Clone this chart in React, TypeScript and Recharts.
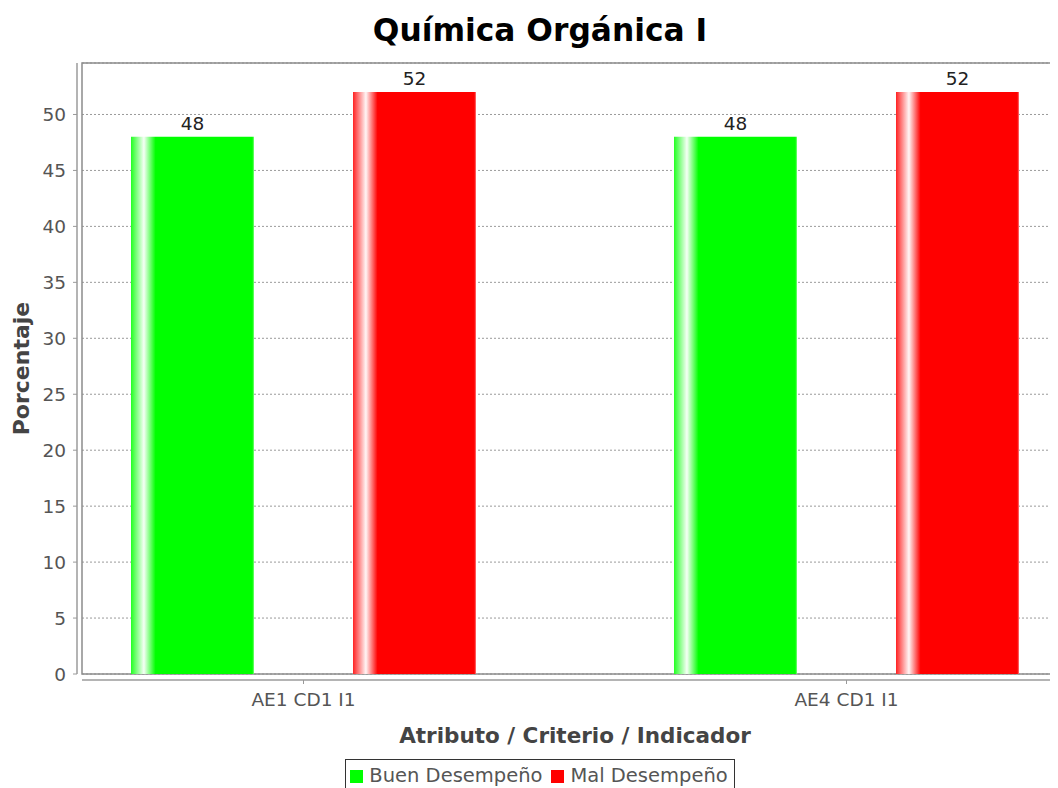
import React from 'react';
import { BarChart, Bar, XAxis, YAxis, CartesianGrid, LabelList, Legend } from 'recharts';

const categories = ['AE1 CD1 I1', 'AE4 CD1 I1'];
const buenDesempeno = [48, 48];
const malDesempeno = [52, 52];
const yTicks = [0, 5, 10, 15, 20, 25, 30, 35, 40, 45, 50];
const seriesNames = ['Buen Desempeño', 'Mal Desempeño'];
const seriesColors = ['#00ff00', '#ff0000'];
const chartTitle = 'Química Orgánica I';
const xTitle = 'Atributo / Criterio / Indicador';
const yTitle = 'Porcentaje';

const data = categories.map((c, i) => ({ category: c, buen: buenDesempeno[i], mal: malDesempeno[i] }));

const FONT = '"DejaVu Sans", Verdana, sans-serif';
const W = 1080;
const H = 800;
const M = { top: 63, right: 12, left: 0, bottom: 36 };
const YW = 82;
const XH = 90;
const plotLeft = M.left + YW;
const plotTop = M.top;
const plotW = W - M.right - plotLeft;
const plotH = H - M.bottom - XH - M.top;

const YTick = (props: any) => {
  const { y, payload } = props;
  return (
    <text x={plotLeft - 16} y={y} dy={6.5} textAnchor="end" fontFamily={FONT} fontSize={18.5} fill="#555">
      {payload.value}
    </text>
  );
};

const XTick = (props: any) => {
  const { x, y, payload } = props;
  return (
    <text x={x} y={y} dy={26} textAnchor="middle" fontFamily={FONT} fontSize={18.5} fill="#555">
      {payload.value}
    </text>
  );
};

const LegendContent = () => (
  <div style={{ textAlign: 'center' }}>
    <div
      style={{
        display: 'inline-flex',
        alignItems: 'center',
        border: '1px solid #333',
        padding: '4px 6px 8px 4px',
        fontFamily: FONT,
        fontSize: 19.5,
        lineHeight: '24px',
        color: '#555',
        background: '#fff',
      }}
    >
      {seriesNames.map((n, i) => (
        <span key={n} style={{ display: 'inline-flex', alignItems: 'center', marginRight: i === 0 ? 9 : 0 }}>
          <span style={{ display: 'inline-block', width: 13, height: 13, background: seriesColors[i], marginRight: 6 }} />
          {n}
        </span>
      ))}
    </div>
  </div>
);

export default function App() {
  return (
    <div style={{ margin: -8, width: 1058, height: 800, overflow: 'hidden', background: '#fff', position: 'relative' }}>
      <BarChart width={W} height={H} data={data} margin={M} barSize={123} barGap={99}>
        <defs>
          <linearGradient id="gradGreen" x1="0" y1="0" x2="1" y2="0">
            <stop offset="0%" stopColor="#22ff22" />
            <stop offset="10.5%" stopColor="#f6fff6" />
            <stop offset="20%" stopColor="#00ff00" />
            <stop offset="98.6%" stopColor="#00ff00" />
            <stop offset="100%" stopColor="#7dff7d" />
          </linearGradient>
          <linearGradient id="gradRed" x1="0" y1="0" x2="1" y2="0">
            <stop offset="0%" stopColor="#ff2222" />
            <stop offset="10.5%" stopColor="#fff6f6" />
            <stop offset="20%" stopColor="#ff0000" />
            <stop offset="98.6%" stopColor="#ff0000" />
            <stop offset="100%" stopColor="#ff7d7d" />
          </linearGradient>
        </defs>
        <text x={W / 2} y={41} textAnchor="middle" fontFamily={FONT} fontWeight="bold" fontSize={31.3} fill="#000">
          {chartTitle}
        </text>
        <CartesianGrid vertical={false} stroke="#9a9a9a" strokeDasharray="2 2" />
        <rect x={plotLeft} y={plotTop} width={plotW} height={plotH} fill="none" stroke="#8c8c8c" strokeWidth={1.5} />
        <XAxis
          dataKey="category"
          height={XH}
          padding={{ left: -50, right: -50 }}
          tickSize={4}
          tickLine={{ stroke: '#999', transform: 'translate(0,6)' }}
          axisLine={{ stroke: '#b4b4b4', strokeWidth: 2, transform: 'translate(0,6)' }}
          tick={<XTick />}
          interval={0}
          label={{
            content: () => (
              <text x={plotLeft + plotW / 2} y={plotTop + plotH + 69} textAnchor="middle" fontFamily={FONT} fontWeight="bold" fontSize={21.5} fill="#444">
                {xTitle}
              </text>
            ),
          }}
        />
        <YAxis
          width={YW}
          domain={[0, 54.6]}
          ticks={yTicks}
          allowDataOverflow
          tickSize={4}
          tickLine={{ stroke: '#999', transform: 'translate(-5,0)' }}
          axisLine={{ stroke: '#b4b4b4', strokeWidth: 2, transform: 'translate(-5,0)' }}
          tick={<YTick />}
          interval={0}
          label={{
            content: () => {
              const cx = 29;
              const cy = plotTop + plotH / 2;
              return (
                <text x={cx} y={cy} transform={`rotate(-90, ${cx}, ${cy})`} textAnchor="middle" fontFamily={FONT} fontWeight="bold" fontSize={22} fill="#444">
                  {yTitle}
                </text>
              );
            },
          }}
        />
        <Legend verticalAlign="middle" align="center" wrapperStyle={{ top: 759, left: 0, width: W }} content={<LegendContent />} />
        <Bar dataKey="buen" name={seriesNames[0]} fill="url(#gradGreen)" isAnimationActive={false}>
          <LabelList dataKey="buen" position="top" offset={7} fontFamily={FONT} fontSize={18.5} fill="#222" />
        </Bar>
        <Bar dataKey="mal" name={seriesNames[1]} fill="url(#gradRed)" isAnimationActive={false}>
          <LabelList dataKey="mal" position="top" offset={7} fontFamily={FONT} fontSize={18.5} fill="#222" />
        </Bar>
      </BarChart>
    </div>
  );
}
